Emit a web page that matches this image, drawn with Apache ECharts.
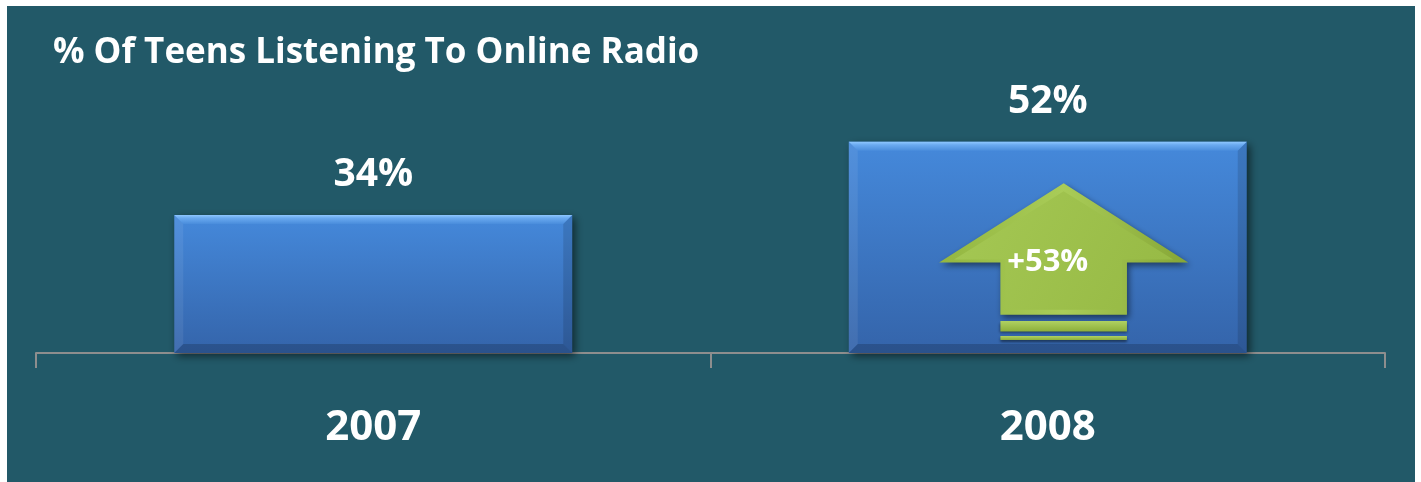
<!DOCTYPE html>
<html>
<head>
<meta charset="utf-8">
<script src="https://cdn.jsdelivr.net/npm/echarts@6/dist/echarts.min.js"></script>
<style>
html,body{margin:0;padding:0;background:#ffffff;}
#chart{width:1421px;height:482px;}
</style>
</head>
<body>
<div id="chart"></div>
<script>
// ---- data ----
const categories = ['2007', '2008'];
const teenShare = [34, 52];
const valueLabels = ['34%', '52%'];
const growthLabel = '+53%';
const arrowCategoryIndex = 1;
const arrowTip = 41.8;
const arrowHeadBase = 22.3;
const arrowShaftBottom = 9.4;
const arrowStripes = [[7.9, 5.3], [4.2, 3.2]];
const titleText = '% Of Teens Listening To Online Radio';

const FONT = '"Open Sans", "Noto Sans", sans-serif';
const BAR_RATIO = 0.59;

const chart = echarts.init(document.getElementById('chart'), null, {renderer: 'canvas'});

function renderBar(params, api) {
  const idx = api.value(0);
  const val = api.value(1);
  const top = api.coord([idx, val]);
  const base = api.coord([idx, 0]);
  const bw = api.size([1, 0])[0] * BAR_RATIO;
  const x0 = top[0] - bw / 2, x1 = top[0] + bw / 2;
  const y0 = top[1], y1 = base[1];
  const b = 9;
  return {
    type: 'group',
    children: [
      {
        type: 'rect',
        shape: {x: x0, y: y0, width: bw, height: y1 - y0},
        style: {
          fill: new echarts.graphic.LinearGradient(0, 0, 0, 1, [
            {offset: 0, color: '#4589DB'},
            {offset: 1, color: '#3464AA'}
          ]),
          shadowColor: 'rgba(0,0,0,0.55)', shadowBlur: 8, shadowOffsetX: 3, shadowOffsetY: 3
        }
      },
      {
        type: 'polygon',
        shape: {points: [[x0, y0], [x1, y0], [x1 - b, y0 + b], [x0 + b, y0 + b]]},
        style: {
          fill: new echarts.graphic.LinearGradient(0, 0, 0, 1, [
            {offset: 0, color: '#8FC8FF'},
            {offset: 0.35, color: '#6AAAF0'},
            {offset: 1, color: '#4A8DDC'}
          ])
        }
      },
      {
        type: 'polygon',
        shape: {points: [[x0, y0], [x0 + b, y0 + b], [x0 + b, y1 - b], [x0, y1]]},
        style: {fill: 'rgba(255,255,255,0.07)'}
      },
      {
        type: 'polygon',
        shape: {points: [[x1, y0], [x1, y1], [x1 - b, y1 - b], [x1 - b, y0 + b]]},
        style: {fill: 'rgba(0,0,0,0.12)'}
      },
      {
        type: 'polygon',
        shape: {points: [[x0, y1], [x1, y1], [x1 - b, y1 - b], [x0 + b, y1 - b]]},
        style: {fill: 'rgba(0,0,0,0.18)'}
      },
      {
        type: 'text',
        style: {
          text: valueLabels[params.dataIndex],
          x: top[0], y: y0 - 40,
          align: 'center', verticalAlign: 'middle',
          fill: '#ffffff',
          font: 'bold 39px ' + FONT
        }
      }
    ]
  };
}

function renderArrow(params, api) {
  const idx = api.value(0);
  const barCenter = api.coord([idx, 0])[0];
  const bw = api.size([1, 0])[0] * BAR_RATIO;
  const cx = barCenter + 0.04 * bw;
  const yTip = api.coord([idx, api.value(1)])[1];
  const yHead = api.coord([idx, api.value(2)])[1];
  const yShaft = api.coord([idx, api.value(3)])[1];
  const hh = 0.313 * bw, sh = 0.159 * bw;
  const outer = [[cx, yTip], [cx + hh, yHead], [cx + sh, yHead], [cx + sh, yShaft],
                 [cx - sh, yShaft], [cx - sh, yHead], [cx - hh, yHead]];
  const i = 5;
  const inner = [[cx, yTip + i * 1.6], [cx + hh - i * 3, yHead - i * 0.6], [cx + sh - i, yHead - i * 0.6],
                 [cx + sh - i, yShaft - i], [cx - sh + i, yShaft - i], [cx - sh + i, yHead - i * 0.6],
                 [cx - hh + i * 3, yHead - i * 0.6]];
  const children = [
    {
      type: 'polygon',
      shape: {points: outer},
      style: {
        fill: new echarts.graphic.LinearGradient(0, 0, 1, 0, [
          {offset: 0, color: '#93B640'},
          {offset: 0.5, color: '#A9CC58'},
          {offset: 1, color: '#86A636'}
        ]),
        shadowColor: 'rgba(0,0,0,0.5)', shadowBlur: 6, shadowOffsetX: 2, shadowOffsetY: 3
      }
    },
    {
      type: 'polygon',
      shape: {points: inner},
      style: {
        fill: new echarts.graphic.LinearGradient(0, 0, 1, 1, [
          {offset: 0, color: '#A5C854'},
          {offset: 1, color: '#96B944'}
        ])
      }
    }
  ];
  arrowStripes.forEach(function (s) {
    const ya = api.coord([idx, s[0]])[1];
    const yb = api.coord([idx, s[1]])[1];
    children.push({
      type: 'rect',
      shape: {x: cx - sh, y: ya, width: 2 * sh, height: yb - ya},
      style: {
        fill: new echarts.graphic.LinearGradient(0, 0, 0, 1, [
          {offset: 0, color: '#B0D262'},
          {offset: 1, color: '#8DAE3A'}
        ]),
        shadowColor: 'rgba(0,0,0,0.5)', shadowBlur: 3, shadowOffsetY: 2
      }
    });
  });
  children.push({
    type: 'text',
    style: {
      text: growthLabel,
      x: barCenter, y: yHead,
      align: 'center', verticalAlign: 'middle',
      fill: '#ffffff',
      font: 'bold 31px ' + FONT
    }
  });
  return {type: 'group', children: children};
}

const option = {
  backgroundColor: 'transparent',
  animation: false,
  graphic: [{
    type: 'rect', z: -10, silent: true,
    shape: {x: 7, y: 6, width: 1408, height: 476},
    style: {fill: '#225968'}
  }],
  title: {
    text: titleText,
    left: 48, top: 26,
    textStyle: {color: '#ffffff', fontFamily: FONT, fontWeight: 'bold', fontSize: 35, lineHeight: 44}
  },
  grid: {left: 36, right: 36, top: 28, bottom: 129},
  xAxis: {
    type: 'category',
    data: categories,
    axisLine: {show: true, lineStyle: {color: '#8E8E8E', width: 2}},
    axisTick: {show: true, length: 15, lineStyle: {color: '#8E8E8E', width: 2}},
    axisLabel: {color: '#ffffff', fontFamily: FONT, fontWeight: 'bold', fontSize: 42, margin: 54},
    z: 1
  },
  yAxis: {type: 'value', min: 0, max: 80, show: false, splitLine: {show: false}},
  series: [
    {
      type: 'custom',
      renderItem: renderBar,
      data: teenShare.map(function (v, i) { return [i, v]; }),
      z: 3
    },
    {
      type: 'custom',
      renderItem: renderArrow,
      data: [[arrowCategoryIndex, arrowTip, arrowHeadBase, arrowShaftBottom]],
      z: 4
    }
  ]
};
chart.setOption(option);
</script>
</body>
</html>
